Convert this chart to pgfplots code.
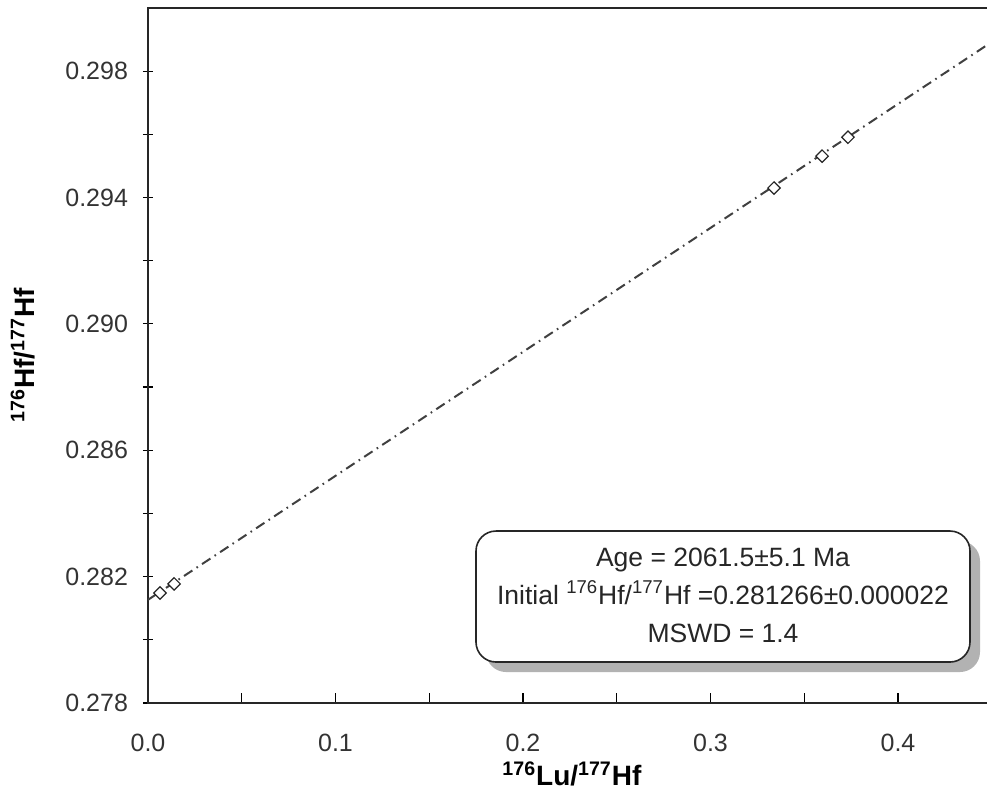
\documentclass[border=0pt]{standalone}
\usepackage{fontspec}
\setmainfont{Liberation Sans}
\usepackage{pgfplots}
\pgfplotsset{compat=1.18}
\usetikzlibrary{shadows}
\begin{document}
\begin{tikzpicture}
\begin{axis}[
  at={(0,0)}, anchor=south west,
  scale only axis, width=425pt, height=347.5pt,
  xmin=0, xmax=0.453333, ymin=0.278, ymax=0.300,
  axis line style={line width=1.4pt, black!85},
  xtick={0,0.1,0.2,0.3,0.4}, minor xtick={0.05,0.15,0.25,0.35},
  ytick={0.278,0.282,0.286,0.290,0.294,0.298},
  minor ytick={0.280,0.284,0.288,0.292,0.296},
  xtick pos=left, ytick pos=left,
  xtick align=inside, ytick align=center,
  major tick length=5pt, minor tick length=5pt,
  every tick/.style={black, line width=0.6pt},
  /pgf/number format/assume math mode=true,
  xticklabel style={yshift=-12pt, /pgf/number format/.cd, fixed, fixed zerofill, precision=1},
  yticklabel style={xshift=-4pt, /pgf/number format/.cd, fixed, fixed zerofill, precision=3},
  scaled ticks=false,
  tick label style={font=\fontsize{12.5}{15}\selectfont, text=black!80},
  xlabel={\textbf{\textsuperscript{176}Lu/\textsuperscript{177}Hf}},
  ylabel={\textbf{\textsuperscript{176}Hf/\textsuperscript{177}Hf}},
  label style={font=\fontsize{14}{17}\selectfont},
  xlabel style={at={(axis description cs:0.4988,-0.102)}, anchor=center},
  ylabel style={at={(axis description cs:-0.147,0.5)}, anchor=center, rotate=0},
  clip=false,
]
\addplot[black!75, line width=1pt, dash pattern=on 5pt off 2.5pt on 0.8pt off 2.5pt]
  coordinates {(0,0.281266) (0.453333,0.299055)};
\addplot[only marks, mark=square*, mark size=2.2pt,
  mark options={rotate=45, fill=white, draw=black!85, line width=0.6pt}]
  coordinates {(0.0064,0.28148) (0.0139,0.28177) (0.3339,0.29430) (0.3595,0.29531) (0.3733,0.29591)};
\node[draw=black!85, line width=0.8pt, rounded corners=10pt, fill=white,
  drop shadow={shadow xshift=5pt, shadow yshift=-5pt, fill=black!30, opacity=1},
  minimum width=247pt, minimum height=65.5pt, inner sep=0pt,
  font=\fontsize{13.25}{19}\selectfont, text=black!85]
  at (axis cs:0.30667,0.28137)
  {\raisebox{-2.5pt}{\begin{tabular}{@{}c@{}}Age = 2061.5±5.1 Ma\\Initial \textsuperscript{176}Hf/\textsuperscript{177}Hf =0.281266±0.000022\\MSWD = 1.4\end{tabular}}};
\end{axis}
\pgfresetboundingbox
\path (-74pt,-46.5pt) rectangle (419.5pt,351.5pt);
\end{tikzpicture}
\end{document}
